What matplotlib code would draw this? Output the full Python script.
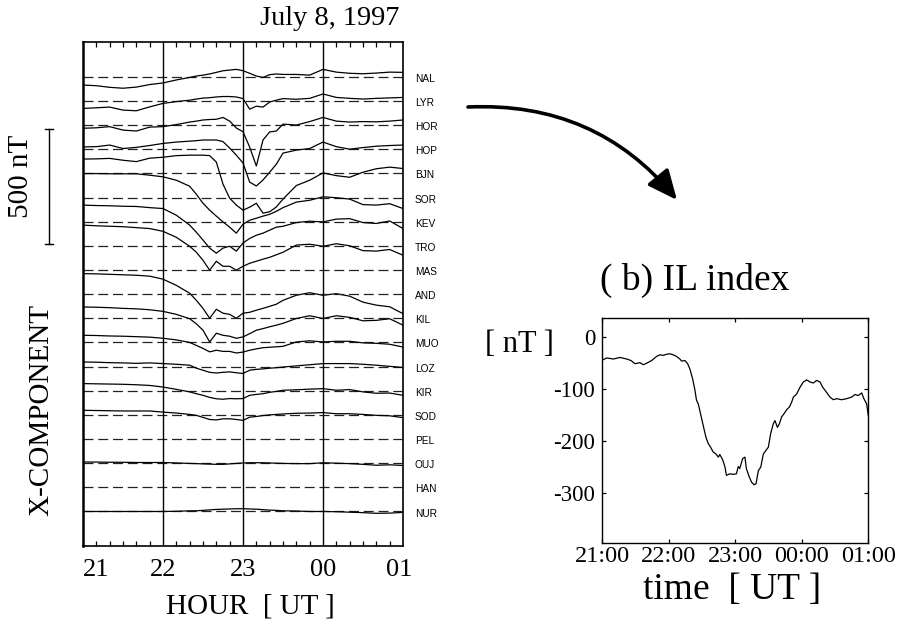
import matplotlib
matplotlib.use('Agg')
import matplotlib.pyplot as plt
import matplotlib.transforms as mtransforms
from matplotlib.patches import FancyArrowPatch
import numpy as np

# ---------------- data ----------------
STATIONS = ['NAL', 'LYR', 'HOR', 'HOP', 'BJN', 'SOR', 'KEV', 'TRO', 'MAS', 'AND',
            'KIL', 'MUO', 'LOZ', 'KIR', 'SOD', 'PEL', 'OUJ', 'HAN', 'NUR']
STATION_STEP_NT = 105          # vertical offset between station baselines (nT)
HOUR_TICKS = [21, 22, 23, 24, 25]
HOUR_LABELS = ['21', '22', '23', '00', '01']

# sample times, minutes after 21:00 UT
T_MIN = [0, 10, 20, 30, 40, 50, 60, 70, 80, 85, 90, 95, 100, 105, 110, 115, 120,
         125, 130, 135, 140, 145, 150, 160, 170, 180, 190, 200, 210, 220, 230, 240]

# X-component deviations from each station's baseline (nT)
NAL = [-36, -39, -46, -50, -45, -34, -27, -14, -3, 3, 7, 12, 19, 26, 29, 32, 26, 15, 3, -3, 9, 12, 10, 10, 7, 32, 20, 15, 13, 16, 20, 19]
LYR = [-33, -30, -27, -40, -43, -26, -11, -3, 3, 8, 12, 14, 17, 19, 19, 17, 10, -36, -23, -27, -5, 3, 10, 7, 11, 30, 15, 11, 8, 11, 13, 15]
HOR = [-14, -12, -7, -22, -26, -9, -7, 2, 13, 17, 22, 24, 25, 33, 17, -13, -29, -96, -178, -65, -30, -26, 4, 0, 15, 33, 17, 13, 15, 14, 17, 22]
HOP = [10, 11, 18, 3, 8, 16, 25, 31, 35, 37, 40, 40, 40, 33, 5, -26, -60, -143, -160, -134, -100, -65, -17, -4, 3, 31, 11, 0, 7, 13, 16, 18]
BJN = [62, 63, 65, 57, 51, 66, 70, 77, 79, 79, 79, 77, 49, -47, -108, -138, -160, -147, -130, -173, -167, -146, -112, -53, -30, 2, -10, -17, 5, 20, 27, 21]
SOR = [104, 104, 103, 103, 103, 97, 90, 75, 49, 14, -25, -55, -81, -106, -129, -155, -116, -99, -90, -81, -73, -60, -44, -20, -12, 3, -1, -7, -31, -33, -27, -48]
KEV = [72, 70, 69, 67, 66, 61, 57, 28, -15, -46, -80, -115, -137, -115, -107, -128, -93, -73, -59, -50, -37, -24, -20, -4, 2, -1, 11, 13, -4, -8, 3, -30]
TRO = [90, 87, 85, 83, 79, 75, 63, 37, -2, -28, -63, -106, -67, -89, -89, -106, -89, -76, -67, -58, -50, -39, -28, 3, 7, -2, 9, 0, -21, -23, -16, -41]
MAS = [-16, -17, -19, -21, -23, -27, -40, -67, -101, -132, -167, -210, -171, -188, -193, -210, -188, -184, -175, -167, -158, -149, -132, -110, -99, -110, -103, -114, -140, -153, -160, -190]
KIL = [49, 48, 46, 43, 41, 37, 30, 17, -2, -24, -52, -103, -65, -74, -78, -87, -81, -67, -52, -45, -37, -30, -22, -1, 11, -1, 11, 4, -11, -9, -2, -30]
MUO = [31, 30, 28, 27, 25, 23, 18, 11, 0, -13, -26, -41, -34, -39, -39, -46, -42, -34, -28, -23, -21, -19, -17, 2, 7, 2, 5, 5, -2, -4, -8, -20]
LOZ = [20, 19, 17, 16, 14, 16, 13, 10, 6, -7, -16, -25, -28, -25, -23, -27, -30, -16, -12, -10, -7, -5, -2, 3, 8, 13, 13, 13, 10, 6, 1, -4]
KIR = [31, 30, 29, 28, 26, 23, 16, 6, -5, -13, -20, -29, -35, -37, -34, -35, -34, -20, -16, -13, -7, -3, 2, 4, 7, 9, 2, 5, -5, -11, -10, -20]
SOD = [20, 19, 18, 17, 17, 17, 12, 8, 2, -2, -11, -20, -22, -17, -17, -20, -24, -10, -7, -3, 0, 2, 4, 7, 8, 10, 5, 5, 2, -2, -4, -12]
OUJ = [5, 5, 4, 4, 3, 3, 3, 1, -1, -2, -3, -4, -5, -5, -3, -1, 1, 2, 2, 2, 1, 0, -1, -2, -2, 2, 0, -2, -5, -9, -7, -10]
NUR = [0, 0, 0, 0, 0, 0, 0, 1, 3, 3, 5, 7, 9, 10, 11, 12, 12, 11, 10, 8, 6, 5, 3, 2, 0, 0, -1, -3, -5, -8, -7, -4]

TRACES = {'NAL': NAL, 'LYR': LYR, 'HOR': HOR, 'HOP': HOP, 'BJN': BJN, 'SOR': SOR,
          'KEV': KEV, 'TRO': TRO, 'MAS': MAS, 'KIL': KIL, 'MUO': MUO, 'LOZ': LOZ,
          'KIR': KIR, 'SOD': SOD, 'OUJ': OUJ, 'NUR': NUR}

# IL index (minutes after 21:00 UT, nT)
IL_MIN = [0, 4, 10, 16, 22, 26, 29.5, 34, 37, 40, 44.5, 49, 52, 55, 58, 61, 64, 67, 70, 71.6,
          74.6, 77, 79, 81.5, 83.6, 85, 86.6, 88, 91, 93.5, 95.6, 97.7, 100, 102.5, 104.7, 106,
          108.6, 110.7, 112, 115, 118, 121, 122.7, 124, 126.6, 128.7, 130, 132.6, 134.7, 136.9,
          138.7, 140.8, 143, 145.3, 147.7, 149.8, 151.9, 154.3, 155.8, 158, 159.8, 161.8, 163.9,
          166.4, 168.8, 170.8, 172.4, 175.4, 178.4, 181.4, 184.4, 187.4, 190.4, 193.4, 196.4,
          198.8, 202.4, 205.4, 208.4, 211.4, 215.9, 220.5, 225, 228, 231, 234, 236, 238.5, 240]
IL_NT = [-45, -41, -43, -40, -43, -46, -52, -50, -54, -51, -46, -38, -35, -36, -34, -33, -35, -38, -43, -47,
         -46, -52, -62, -81, -103, -122, -129, -142, -170, -193, -205, -212, -221, -225, -231, -226,
         -236, -250, -266, -263, -264, -263, -249, -253, -234, -231, -253, -269, -279, -284,
         -282, -257, -250, -225, -218, -212, -186, -167, -161, -174, -167, -154, -148,
         -140, -135, -126, -116, -110, -97, -87, -83, -87, -89, -84, -87,
         -97, -107, -116, -121, -119, -121, -119, -116, -111, -113, -108, -119, -129, -151]
IL_TICKS = [0, -100, -200, -300]
IL_TICK_LABELS = ['0', '-100', '-200', '-300']
IL_HOUR_LABELS = ['21:00', '22:00', '23:00', '00:00', '01:00']

# ---------------- figure ----------------
W, H = 897, 624
SERIF = 'Liberation Serif'
SANS = 'Liberation Sans'
fig = plt.figure(figsize=(W / 100, H / 100), dpi=100)


def fx(x):
    return x / W


def fy(y):
    return 1 - y / H


# ---- left panel: stacked magnetograms ----
ax = fig.add_axes([fx(83), fy(546), 320 / W, 504 / H])
hours = 21 + np.array(T_MIN) / 60.0
trans = mtransforms.blended_transform_factory(ax.transAxes, ax.transData)
for i, name in enumerate(STATIONS):
    base = -STATION_STEP_NT * i
    ax.plot([21, 25], [base, base], color='#222222', lw=0.9, dashes=(8, 3.8))
    if name in TRACES:
        ax.plot(hours, base + np.array(TRACES[name]), color='black', lw=0.9)
    ax.text(1.037, base - 9, name, transform=trans, fontsize=7.3, family=SANS,
            ha='left', va='center')

for h in [22, 23, 24]:
    ax.axvline(h, color='black', lw=1.0)

ax.set_xlim(21, 25)
ax.set_ylim(-2040, 151)
ax.set_yticks([])
ax.set_xticks(HOUR_TICKS)
ax.set_xticklabels(HOUR_LABELS, family=SERIF, fontsize=19)
minor = [21 + k / 6 for k in range(1, 24) if k % 6 != 0]
ax.set_xticks(minor, minor=True)
ax.tick_params(axis='x', which='major', length=0, pad=9)
ax.tick_params(axis='x', which='minor', direction='in', length=3.6, width=0.9,
               top=True, bottom=True)
labs = ax.get_xticklabels()
labs[0].set_ha('left')
labs[-1].set_transform(labs[-1].get_transform() +
                       mtransforms.ScaledTranslation(-4 / 100, 0, fig.dpi_scale_trans))
for s in ax.spines.values():
    s.set_linewidth(1.2)
ax.spines['left'].set_linewidth(1.8)

# 500 nT scale bar (outside the axes, same data scale)
bar_x = 20.575
ax.plot([bar_x, bar_x], [-229, -729], color='black', lw=1.0, clip_on=False)
ax.plot([bar_x - 0.05, bar_x + 0.05], [-229, -229], color='black', lw=1.0, clip_on=False)
ax.plot([bar_x - 0.05, bar_x + 0.05], [-729, -729], color='black', lw=1.0, clip_on=False)

fig.text(fx(399), fy(25), 'July 8, 1997', ha='right', va='baseline',
         fontsize=20.5, family=SERIF)
fig.text(fx(21), fy(176), '500 nT', rotation=90, ha='center', va='center',
         fontsize=21, family=SERIF)
fig.text(fx(41), fy(410), 'X-COMPONENT', rotation=90, ha='center', va='center',
         fontsize=21, family=SERIF)
fig.text(fx(250), fy(607), 'HOUR  [ UT ]', ha='center', va='center',
         fontsize=21, family=SERIF)

# ---- right panel: IL index ----
ax2 = fig.add_axes([fx(602.3), fy(542.7), 266 / W, 224.4 / H])
ax2.plot(21 + np.array(IL_MIN) / 60.0, IL_NT, color='black', lw=0.9)
ax2.set_xlim(21, 25)
ax2.set_ylim(-395, 35)
ax2.set_xticks(HOUR_TICKS)
ax2.set_xticklabels(IL_HOUR_LABELS, family=SERIF, fontsize=17.5)
ax2.set_yticks(IL_TICKS)
ax2.set_yticklabels(IL_TICK_LABELS, family=SERIF, fontsize=16.5)
ax2.tick_params(direction='in', length=3, width=0.9, top=True, right=True)
ax2.tick_params(axis='x', pad=2.5)
ax2.tick_params(axis='y', pad=5)
for s in ax2.spines.values():
    s.set_linewidth(1.0)

fig.text(fx(695), fy(280), '( b) IL index', ha='center', va='center',
         fontsize=27, family=SERIF)
fig.text(fx(519), fy(344), '[ nT ]', ha='center', va='center',
         fontsize=22, family=SERIF)
fig.text(fx(732), fy(590), 'time  [ UT ]', ha='center', va='center',
         fontsize=27, family=SERIF)

# curved arrow
arrow = FancyArrowPatch(posA=(fx(468), fy(107)), posB=(fx(677), fy(200)),
                        transform=fig.transFigure,
                        connectionstyle='arc3,rad=-0.25',
                        arrowstyle='-|>,head_length=1.0,head_width=0.45',
                        mutation_scale=18, lw=2.6, color='black',
                        shrinkA=0, shrinkB=0)
fig.patches.append(arrow)

fig.savefig('out.png', dpi=100)
